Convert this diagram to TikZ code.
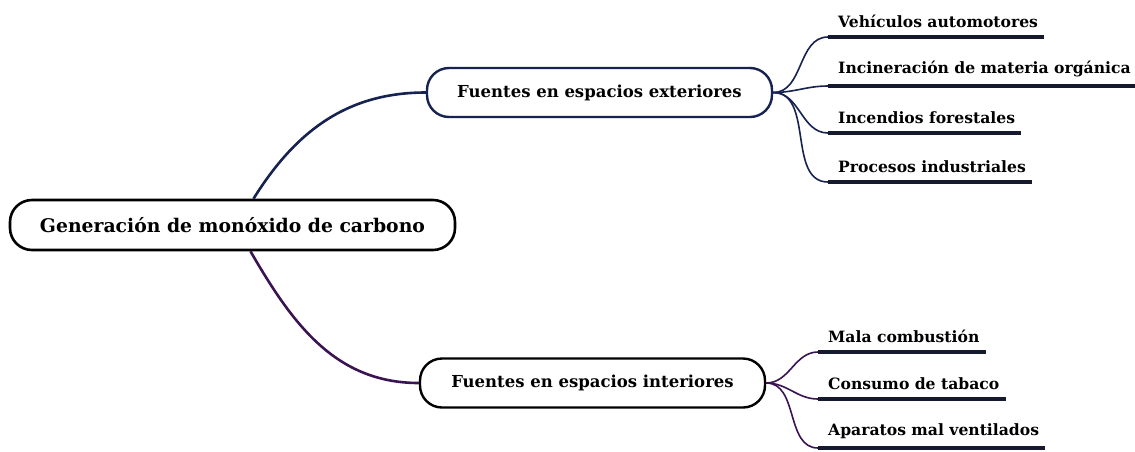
\documentclass[tikz,border=0pt]{standalone}
\usepackage{fontspec}
\setmainfont{DejaVu Serif}
\usepackage{xcolor}
\usepackage{tikz}
\usetikzlibrary{positioning}

\definecolor{navyline}{HTML}{16224F}
\definecolor{plumline}{HTML}{3A1452}
\definecolor{inkline}{HTML}{151A2E}

\begin{document}
\begin{tikzpicture}[
    x=1pt, y=-1pt,
    rootbox/.style={rectangle, draw=black, line width=2.6pt, rounded corners=22pt, fill=white,
        minimum width=445pt, minimum height=50pt, font=\fontsize{18.8}{22}\selectfont\bfseries},
    topicbox/.style={rectangle, draw, line width=2.4pt, rounded corners=22pt, fill=white,
        minimum width=345pt, minimum height=49pt, font=\fontsize{16.5}{19}\selectfont\bfseries},
    leaf/.style={anchor=south west, inner xsep=6pt, inner ysep=9pt, font=\fontsize{15.6}{18}\selectfont\bfseries,
        append after command={([xshift=-4pt]\tikzlastnode.south west) edge[line width=3.2pt, draw=inkline] (\tikzlastnode.south east)}},
    branch/.style={line width=2.6pt},
    twig/.style={line width=1.6pt, out=0, in=180}
]
\useasboundingbox (0,0) rectangle (1135,451);

\node[rootbox] (root) at (232.5,225) {Generación de monóxido de carbono};
\node[topicbox, draw=navyline] (ext) at (599.5,92.5) {Fuentes en espacios exteriores};
\node[topicbox, draw=black] (int) at (592.5,383) {Fuentes en espacios interiores};

\node[leaf] (e1) at (832,37) {Vehículos automotores};
\node[leaf] (e2) at (832,86) {Incineración de materia orgánica};
\node[leaf] (e3) at (832,133) {Incendios forestales};
\node[leaf] (e4) at (832,182) {Procesos industriales};

\node[leaf] (i1) at (822,352) {Mala combustión};
\node[leaf] (i2) at (822,399) {Consumo de tabaco};
\node[leaf] (i3) at (822,448) {Aparatos mal ventilados};

\draw[branch, navyline] ([xshift=21pt]root.north) to[out=58, in=180] (ext.west);
\draw[branch, plumline] ([xshift=18pt]root.south) to[out=-60, in=180] (int.west);

\foreach \k in {e1,e2,e3,e4}
    \draw[twig, navyline] (ext.east) to ([xshift=-4pt]\k.south west);
\foreach \k in {i1,i2,i3}
    \draw[twig, plumline] (int.east) to ([xshift=-4pt]\k.south west);

\end{tikzpicture}
\end{document}
